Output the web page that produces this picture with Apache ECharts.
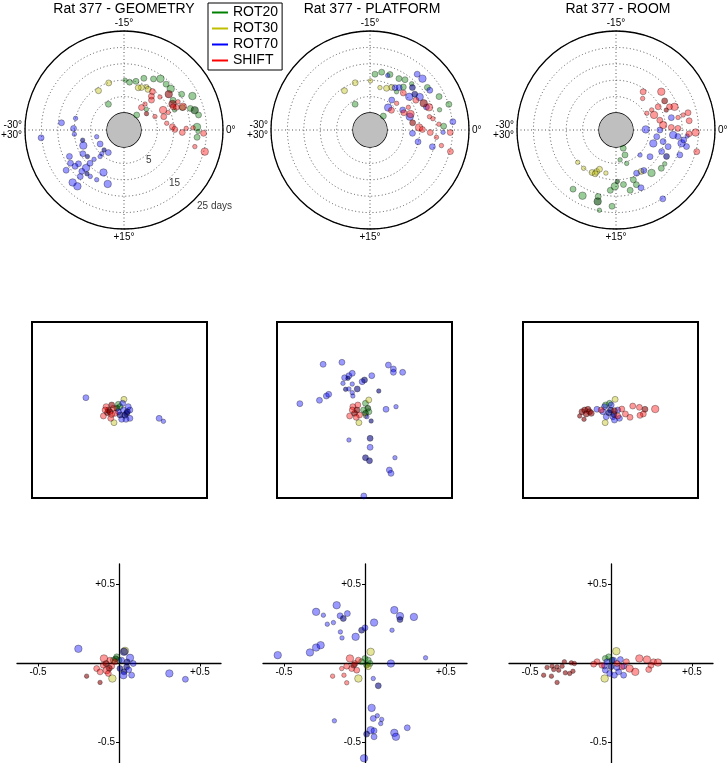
<!DOCTYPE html>
<html><head><meta charset="utf-8">
<script src="https://cdn.jsdelivr.net/npm/echarts@6/dist/echarts.min.js"></script>
<style>html,body{margin:0;padding:0;background:#fff}#c{width:728px;height:763px}</style>
</head><body><div id="c"></div>
<script>
// ---------------- DATA ----------------
const seriesNames = ['ROT20', 'ROT30', 'ROT70', 'SHIFT'];
const panelTitles = ['Rat 377 - GEOMETRY', 'Rat 377 - PLATFORM', 'Rat 377 - ROOM'];
const angleTicks = [-30, -15, 0, 15, 30];
const dayRings = [0, 5, 10, 15, 20, 25];
const dayRingLabels = ['5', '15', '25 days'];
const dayRingLabelDays = [6.7, 17.1, 25];
const dayRingLabelAngle = [8.4, 7.7, 7.5];
const crossTicks = [-0.5, 0.5];

// polar points: [days, rotation angle, weight, dark]
const geoPolarROT20 = [[9.5,-13.9,2],[10.1,-12.7,2],[11.7,-11.5,2],[12.8,-10.0,2],[14.0,-9.1,3],[13.8,-7.9,2],[13.8,-6.9,3],[12.3,-5.2,2],[15.5,-5.3,2],[18.1,-4.4,3],[13.9,-3.5,2],[16.1,-3.0,2],[17.2,-2.6,3,1],[18.0,-1.9,2],[17.1,-0.4,3],[17.2,0.95,2],[17.4,0.2,1],[4.0,-20.2,2],[0.8,-8.3,2],[4.1,-7.1,1],[11.4,-3.6,1],[10.0,-14.8,1]];
const geoPolarROT30 = [[9.9,-18.0,2],[9.1,-20.5,2],[8.8,-11.3,2],[9.7,-10.4,1],[9.2,-9.9,2],[8.4,-11.9,2]];
const geoPolarROT70 = [[14.0,-28.9,2],[10.0,-27.75,1],[20.2,29.1,2],[10.2,-29.7,2],[10.0,29.2,1],[7.8,27.7,1,1],[8.1,26.5,3],[9.3,25.0,2],[3.4,27.7,1],[3.25,24.95,2],[3.4,22.5,1,1],[3.2,20.8,2],[4.7,22.2,1],[13.3,25.7,2],[14.0,24.7,2],[16.3,24.2,2],[17.2,22.4,3],[17.1,21.6,3],[14.3,22.2,2],[11.2,22.5,3],[12.3,21.0,1],[12.1,19.8,1],[9.2,19.3,3],[12.0,17.8,3],[9.3,22.6,2],[7.6,22.6,1],[8.6,24.0,1,1],[12.1,23.9,2],[13.4,23.9,2],[12.8,22.6,2],[12.3,21.7,1,1],[5.7,22.0,1]];
const geoPolarSHIFT = [[3.5,-8.7,2],[5.0,-8.5,1],[7.2,-7.9,2],[8.1,-8.5,2],[9.4,-8.9,2],[9.7,-7.1,1],[8.2,-4.5,3],[7.6,-3.1,2],[5.1,-3.9,1],[8.0,-1.5,1],[9.6,-0.65,2],[10.3,-0.1,2],[12.6,0.4,2],[15.9,-0.3,1],[19.1,0.4,2],[20.3,2.5,3],[17.0,2.2,1],[14.1,-3.6,3],[12.2,-3.9,2],[11.6,-4.7,3,1],[12.3,-6.45,3,1],[11.4,-4.2,2],[13.8,-0.25,1],[3.3,-6.0,1,1],[9.3,-3.6,1],[13.4,-4.6,1]];

const platPolarROT20 = [[11.9,-14.15,2],[12.8,-13.1,2],[12.8,-11.7,2],[12.8,-10.1,2],[13.5,-9.2,2],[11.4,-8.7,2],[3.9,-20.0,2],[0.7,-7.7,2],[18.2,-4.3,2],[20.1,-3.0,2],[16.9,-2.7,1],[17.3,-0.5,2],[16.6,-6.1,2],[9.0,-9.2,1],[13.8,-8.0,1]];
const platPolarROT30 = [[9.9,-17.9,2],[9.1,-20.5,2],[9.8,-14.9,1],[8.1,-12.8,1],[9.4,-10.5,2],[8.5,-11.4,2]];
const platPolarROT70 = [[12.3,-12.0,1],[17.1,-8.3,2],[17.2,-7.4,3],[13.1,-7.5,2,1],[13.0,-5.6,3],[12.3,-6.45,2,1],[3.6,-8.5,3],[6.1,-9.0,2],[9.8,-9.9,2],[7.6,-3.1,3],[7.8,0.75,2],[9.9,2.3,2],[14.5,2.5,2],[20.2,-0.95,2],[17.1,0.3,1],[16.7,-5.6,2],[6.5,-5.25,2],[10.5,-6.7,3],[10.5,-9.25,2],[13.4,-3.7,2]];
const platPolarSHIFT = [[3.7,-7.1,2],[6.4,-4.5,2],[8.1,-3.6,3],[8.0,-1.6,2,1],[9.8,-0.5,3],[10.8,-0.1,2],[14.1,-3.5,3],[13.1,-4.4,3,1],[11.5,-5.5,2],[13.4,-2.1,1],[14.3,-1.7,1],[13.2,0.4,2],[15.2,1.05,1],[17.1,2.05,1],[20.2,2.5,2],[19.3,0.3,2],[10.0,-8.0,2],[6.3,-7.5,1],[8.4,-5.1,1],[15.9,-0.8,1]];

const roomPolarROT20 = [[0.8,11.4,2],[2.9,11.7,2],[4.0,13.7,1],[5.5,12.05,1],[13.3,15.9,2],[12.0,15.2,3],[11.6,13.7,2],[13.7,12.8,2],[15.8,17.5,2],[17.3,17.4,3,1],[17.3,19.5,3],[17.1,21.0,2],[18.1,15.5,2],[19.8,16.95,1],[11.8,8.4,3],[12.9,6.7,2],[12.9,5.8,1],[12.6,11.6,2],[10.5,14.75,1,1],[10.9,11.8,2]];
const roomPolarROT30 = [[10.1,23.3,1],[10.1,21.7,1],[9.7,19.9,2],[8.8,19.15,2],[7.8,18.8,2],[9.6,19.25,2],[8.3,17.2,1],[9.6,9.8,2]];
const roomPolarROT70 = [[3.9,-0.2,3],[7.4,1.55,2],[9.6,2.3,2],[12.1,-2.1,2],[13.8,1.0,2],[15.2,1.9,3],[16.9,2.2,2],[15.7,3.55,2],[11.5,2.95,2],[10.2,4.2,2],[8.0,6.35,2],[5.4,7.7,1],[9.8,9.25,2],[14.0,11.1,2],[20.2,9.3,2],[6.9,3.3,3],[12.3,0.83,3],[15.7,1.4,2],[8.2,0,2],[12.2,4.6,2,1],[9.4,10.75,2],[16.6,0.8,1]];
const roomPolarSHIFT = [[9.1,-9.1,2],[7.4,-8.3,1],[12.9,-6.7,3],[12.1,-5.15,2,1],[14.0,-3.6,3],[12.6,-3.9,2],[17.4,-2.25,2],[17.3,-1.2,2],[19.1,0.3,3],[17.1,0.5,2],[20.3,2.5,2],[7.3,-3.6,3],[8.5,-2.1,2],[9.3,-1.0,3],[11.7,-0.45,2],[13.7,-0.25,2],[14.1,-1.9,1],[7.3,-4.9,1],[5.5,-4.75,1],[11.3,-3.6,1,1],[9.5,-4.8,2],[15.8,-2.1,1]];

// square panels: [x, y, weight, dark]
const geoSqROT20 = [[-0.013,0.064,2],[0.006,0.038,2],[-0.03,0.02,2,1]];
const geoSqROT30 = [[0.051,0.121,2],[-0.063,-0.144,2]];
const geoSqROT70 = [[-0.384,0.14,2],[0.453,-0.095,2],[0.502,-0.129,1],[0.044,0,2],[0.081,-0.038,2,1],[0.119,0,2],[0.119,-0.095,2],[0.025,-0.106,2],[0.1,0.038,2],[0.036,0.076,2],[0.006,-0.057,2,1],[0.074,-0.106,2],[-0.013,-0.019,2],[0.06,-0.06,2,1],[0.09,-0.02,2,1]];
const geoSqSHIFT = [[-0.127,0,2,1],[-0.153,0.038,2],[-0.184,-0.068,2],[-0.1,-0.095,2],[-0.138,-0.03,2,1],[-0.07,0.019,2],[-0.051,-0.038,2],[-0.089,0.057,2,1],[-0.165,0,2],[-0.11,-0.02,2,1],[-0.09,-0.05,2]];

const platSqROT20 = [[0.011,0.076,2],[0.038,0.019,2,1],[-0.011,0,2],[0.05,-0.02,2],[0.011,-0.038,2,1]];
const platSqROT30 = [[0.049,0.114,2],[-0.064,-0.144,2],[0.011,-0.068,1]];
const platSqROT70 = [[-0.473,0.519,2],[-0.258,0.542,2],[-0.739,0.072,2],[-0.515,0.11,2],[-0.436,0.159,2],[-0.409,0.178,2],[-0.227,0.367,2],[-0.178,0.39,2],[-0.14,0.417,2],[-0.246,0.303,1],[-0.189,0.36,1,1],[-0.216,0.235,1,1],[-0.178,0.239,1],[-0.14,0.295,1],[-0.083,0.239,2,1],[-0.14,0.197,1],[-0.133,0.159,1],[-0.027,0.322,2],[0,0.341,2,1],[0.083,0.39,2],[0.273,0.511,2],[0.33,0.466,2],[0.33,0.428,2],[0.436,0.428,2],[0.163,0.216,1,1],[0.36,0.038,1],[0.246,0.008,2],[0.076,-0.125,1,1],[-0.178,-0.341,1],[0.064,-0.322,2,1],[0.064,-0.424,2],[0.011,-0.542,2,1],[0.057,-0.576,2,1],[0.348,-0.542,1],[0.284,-0.682,2],[0.303,-0.72,2],[-0.008,-0.977,2],[0.027,-0.076,1]];
const platSqSHIFT = [[-0.133,0.038,2],[-0.087,0,2,1],[-0.114,-0.038,2,1],[-0.17,-0.068,2],[-0.057,-0.057,2],[-0.14,0,2],[-0.076,0.057,2],[-0.095,-0.083,2]];

const roomSqROT20 = [[-0.011,0.076,2],[-0.057,0.057,2]];
const roomSqROT30 = [[0.053,0.121,2],[-0.061,-0.144,2]];
const roomSqROT70 = [[-0.155,0.008,2],[-0.087,-0.019,2],[0,0,2,1],[0.027,-0.076,2],[0.045,-0.114,2],[-0.049,-0.076,2],[0.083,0,2],[0.008,0.057,2],[-0.068,0.038,2],[0.102,-0.095,2],[0.04,-0.05,2,1],[-0.02,-0.03,2,1]];
const roomSqSHIFT = [[0.254,0.045,2],[0.33,0.03,2],[0.394,0.008,2,1],[0.511,0.011,3],[0.375,-0.045,2],[0.337,-0.061,2],[0.223,-0.083,2],[0.17,-0.045,2],[0.129,0.011,2],[0.083,-0.068,2],[-0.326,-0.019,2,1],[-0.295,0,2,1],[-0.258,0.008,2,1],[-0.239,-0.019,2,1],[-0.352,-0.068,1,1],[-0.303,-0.106,1,1],[-0.277,-0.045,2,1],[-0.22,-0.038,2,1],[0.045,-0.008,2,1],[-0.106,0,2]];

// cross panels: [x, y, weight, dark]
const geoCrROT20 = [[-0.014,0.042,2],[-0.035,0.021,2],[0,0.02,2],[-0.02,0.03,2,1]];
const geoCrROT30 = [[-0.041,-0.095,3],[0.037,0.08,3]];
const geoCrROT70 = [[-0.251,0.093,3],[0.311,-0.063,3],[0.41,-0.10,2],[0.068,0.036,3],[0.088,0,2],[0.031,-0.053,2,1],[0.078,-0.074,2],[0.047,-0.021,2,1],[0.016,0.021,2],[0.027,-0.074,3],[0.006,-0.032,2,1],[0.031,0.074,3,1],[0.05,0.01,2,1],[0.06,-0.04,2]];
const geoCrSHIFT = [[-0.093,0.032,3],[-0.138,-0.032,2],[-0.117,-0.053,2],[-0.076,-0.042,3],[-0.045,-0.017,2],[-0.097,-0.011,2],[-0.056,0.021,2],[-0.2,-0.08,1,1],[-0.117,-0.12,1,1],[-0.066,-0.063,2],[-0.025,0.011,2],[-0.08,0,2,1],[-0.06,-0.03,2,1]];

const platCrROT20 = [[0,0.032,2],[0.02,0.021,2],[-0.021,0.011,2],[0.031,0,2],[0.01,-0.01,2,1]];
const platCrROT30 = [[0.035,0.074,3],[-0.041,-0.095,3],[0.02,-0.02,2]];
const platCrROT70 = [[-0.539,0.053,3],[-0.34,0.07,3],[-0.302,0.101,3],[-0.274,0.116,3],[-0.302,0.327,3],[-0.257,0.306,1],[-0.175,0.369,3],[-0.195,0.259,1],[-0.233,0.249,1],[-0.154,0.302,2],[-0.134,0.285,2,1],[-0.109,0.316,2],[-0.152,0.2,1],[-0.142,0.162,1],[-0.058,0.169,3],[-0.021,0.211,2,1],[0,0.226,2],[0.056,0.259,3],[0.181,0.338,3],[0.216,0.3,3],[0.216,0.278,2,1],[0.302,0.295,3],[0.167,0.211,1],[0.374,0.036,1],[0.16,0,3],[0.051,-0.095,1],[0.082,-0.141,2,1],[0.041,-0.281,3],[0.051,-0.348,2],[0.076,-0.331,1],[0.103,-0.354,1],[0.097,-0.38,1],[0.035,-0.422,3],[0.056,-0.426,2],[0.01,-0.447,2,1],[0.056,-0.464,2],[-0.189,-0.363,1],[0.181,-0.439,3],[0.191,-0.464,3],[0.261,-0.407,2],[-0.006,-0.6,3]];
const platCrSHIFT = [[-0.093,0.032,3],[-0.062,0,2],[-0.113,-0.017,2],[-0.082,-0.032,2],[-0.051,-0.042,2],[-0.144,-0.032,1],[-0.2,-0.08,1],[-0.113,-0.122,1],[-0.13,-0.074,1],[-0.041,0.021,2],[-0.07,-0.01,2,1]];

const roomCrROT20 = [[-0.035,0.032,2],[-0.014,0.042,2],[0.006,0.021,2,1]];
const roomCrROT30 = [[0.033,0.078,3],[-0.039,-0.095,3]];
const roomCrROT70 = [[-0.025,0.011,2],[0.016,0.021,2],[0.058,0.025,2],[0.078,-0.017,2],[0.047,-0.053,2],[0.021,-0.074,2],[-0.008,-0.063,2],[-0.035,-0.042,2],[0.078,-0.074,2],[0,-0.02,2,1],[0.037,-0.025,2],[-0.04,-0.015,2]];
const roomCrSHIFT = [[0.175,0.032,3],[0.222,0.025,3],[0.263,0.011,2],[0.29,0.006,3],[0.247,-0.011,2],[0.233,-0.038,2],[0.15,-0.053,3],[0.115,-0.032,3],[0.095,0.011,2],[0.037,0,2],[0.068,-0.021,2],[-0.416,-0.074,1,1],[-0.368,-0.08,1,1],[-0.333,-0.12,1,1],[-0.364,-0.017,1,1],[-0.333,-0.021,1,1],[-0.302,-0.017,1,1],[-0.288,0.011,1,1],[-0.255,-0.063,1,1],[-0.235,-0.049,1,1],[-0.245,0.004,1,1],[-0.226,0,1,1],[-0.282,-0.059,1,1],[-0.323,-0.042,1,1],[-0.354,-0.038,1,1],[-0.395,-0.025,1,1],[-0.086,0.011,2],[-0.056,-0.011,2],[-0.107,-0.004,2]];

// ---------------- LAYOUT / STYLE ----------------
const FONT = '"Liberation Sans", Arial, sans-serif';
const COLORS = {ROT20:'0,128,0', ROT30:'191,191,0', ROT70:'0,0,255', SHIFT:'255,0,0'};
const DARK = {ROT20:'0,70,0', ROT30:'120,120,0', ROT70:'0,0,130', SHIFT:'140,0,0'};
const SIZE = [0, 4.5, 6, 7.5];
const polarCenters = [[124,130],[370,130],[616,130]];
const squareLefts = [32, 277, 523];
const crossLefts = [17, 263, 509];
const crossW = 204, crossH = 199;
const titleCenters = [124, 372, 618];

const polarData = [
  [geoPolarROT20, geoPolarROT30, geoPolarROT70, geoPolarSHIFT],
  [platPolarROT20, platPolarROT30, platPolarROT70, platPolarSHIFT],
  [roomPolarROT20, roomPolarROT30, roomPolarROT70, roomPolarSHIFT]
];
const squareData = [
  [geoSqROT20, geoSqROT30, geoSqROT70, geoSqSHIFT],
  [platSqROT20, platSqROT30, platSqROT70, platSqSHIFT],
  [roomSqROT20, roomSqROT30, roomSqROT70, roomSqSHIFT]
];
const crossData = [
  [geoCrROT20, geoCrROT30, geoCrROT70, geoCrSHIFT],
  [platCrROT20, platCrROT30, platCrROT70, platCrSHIFT],
  [roomCrROT20, roomCrROT30, roomCrROT70, roomCrSHIFT]
];

function itemStyle(name) {
  return {
    color: p => (p.data[3] ? 'rgba(' + DARK[name] + ',0.72)' : 'rgba(' + COLORS[name] + ',0.5)'),
    borderColor: 'rgba(0,0,0,0.55)',
    borderWidth: 0.7
  };
}
const symSize = v => SIZE[v[2]];
const fmtAngle = v => {
  if (v === -30 || v === 30) return '-30°\n+30°';
  if (v === 0) return '0°';
  return (v > 0 ? '+' : '') + v + '°';
};
const fmtCross = v => (v > 0 ? '+' : '') + v.toFixed(1);
const gridLine = {color:'#555', type:[1,2.5], width:1};
const XMIN = -0.63, XMAX = 0.63, YMIN = -0.63, YMAX = 0.63;

const option = {
  animation: false,
  backgroundColor: '#fff',
  title: panelTitles.map((t, i) => ({
    text: t, left: titleCenters[i], top: 2, textAlign: 'center', padding: 0,
    textStyle: {fontSize: 14, fontWeight: 'normal', color: '#000', fontFamily: FONT}
  })),
  legend: {
    left: 208, top: 3, orient: 'vertical', selectedMode: false,
    data: seriesNames.map(n => ({name: n, icon: 'rect', itemStyle: {color: 'rgb(' + COLORS[n] + ')', opacity: 1, borderWidth: 0}})),
    itemWidth: 16, itemHeight: 2, itemGap: 1,
    textStyle: {fontSize: 14, color: '#000', fontFamily: FONT, lineHeight: 15},
    borderColor: '#000', borderWidth: 1, borderRadius: 0, padding: [2, 4, 2, 4], backgroundColor: '#fff'
  },
  polar: polarCenters.map(c => ({center: c, radius: [17, 99]})),
  angleAxis: polarCenters.map((c, i) => ({
    polarIndex: i, type: 'value', min: angleTicks[0], max: angleTicks[angleTicks.length - 1], interval: 15,
    startAngle: 180, clockwise: true,
    axisLine: {lineStyle: {color: '#000', width: 1.3}},
    axisTick: {show: false},
    axisLabel: {margin: 3, fontSize: 10, color: '#000', fontFamily: FONT, formatter: fmtAngle},
    splitLine: {show: true, lineStyle: gridLine}
  })),
  radiusAxis: polarCenters.map((c, i) => ({
    polarIndex: i, type: 'value', min: dayRings[0], max: dayRings[dayRings.length - 1], interval: 5,
    axisLine: {show: false}, axisTick: {show: false}, axisLabel: {show: false},
    splitLine: {show: true, lineStyle: gridLine}
  })),
  grid: [
    ...squareLefts.map(l => ({left: l, top: 322, width: 175, height: 176, show: true, borderColor: '#000', borderWidth: 2, backgroundColor: 'transparent', containLabel: false, outerBoundsMode: 'none'})),
    ...crossLefts.map(l => ({left: l, top: 564, width: crossW, height: crossH, containLabel: false, outerBoundsMode: 'none'}))
  ],
  xAxis: [
    ...squareLefts.map((l, i) => ({gridIndex: i, type: 'value', min: -1, max: 1, show: false})),
    ...crossLefts.map((l, i) => ({
      gridIndex: 3 + i, type: 'value', min: XMIN, max: XMAX, position: 'bottom',
      offset: -crossH * (0 - YMIN) / (YMAX - YMIN),
      axisLine: {onZero: false, lineStyle: {color: '#000', width: 1.3}},
      axisTick: {show: true, length: 3, customValues: crossTicks, lineStyle: {color: '#000'}},
      axisLabel: {customValues: crossTicks, formatter: fmtCross, fontSize: 10, color: '#000', fontFamily: FONT, margin: 4},
      splitLine: {show: false}
    }))
  ],
  yAxis: [
    ...squareLefts.map((l, i) => ({gridIndex: i, type: 'value', min: -1, max: 1, show: false})),
    ...crossLefts.map((l, i) => ({
      gridIndex: 3 + i, type: 'value', min: YMIN, max: YMAX, position: 'left',
      offset: -crossW * (0 - XMIN) / (XMAX - XMIN),
      axisLine: {onZero: false, lineStyle: {color: '#000', width: 1.3}},
      axisTick: {show: true, length: 3, customValues: crossTicks, lineStyle: {color: '#000'}},
      axisLabel: {customValues: crossTicks, formatter: fmtCross, fontSize: 10, color: '#000', fontFamily: FONT, margin: 4},
      splitLine: {show: false}
    }))
  ],
  series: []
};

// gray disc in polar centres
polarCenters.forEach(c => {
  option.series.push({
    type: 'pie', center: c, radius: [0, 17], silent: true, z: 1,
    label: {show: false}, labelLine: {show: false}, emphasis: {disabled: true},
    itemStyle: {color: '#bfbfbf', borderWidth: 0},
    data: [{value: 1, name: 'centre'}]
  });
});

for (let p = 0; p < 3; p++) {
  seriesNames.forEach((n, k) => {
    option.series.push({name: n, type: 'scatter', coordinateSystem: 'polar', polarIndex: p,
      data: polarData[p][k], symbolSize: symSize, itemStyle: itemStyle(n), z: 3});
    option.series.push({name: n, type: 'scatter', xAxisIndex: p, yAxisIndex: p,
      data: squareData[p][k], symbolSize: symSize, itemStyle: itemStyle(n), z: 3});
    option.series.push({name: n, type: 'scatter', xAxisIndex: 3 + p, yAxisIndex: 3 + p,
      data: crossData[p][k], symbolSize: symSize, itemStyle: itemStyle(n), z: 3});
  });
}

// day ring labels on the first polar panel
option.series.push({
  name: 'days', type: 'scatter', coordinateSystem: 'polar', polarIndex: 0, symbolSize: 0, silent: true, z: 4,
  data: dayRingLabels.map((t, i) => ({
    name: t, value: [dayRingLabelDays[i], dayRingLabelAngle[i]],
    label: i === 2 ? {position: 'right', distance: 3, offset: [0, 6]} : {position: 'inside'}
  })),
  label: {show: true, formatter: q => q.name, fontSize: 10, color: '#000', fontFamily: FONT}
});

const chart = echarts.init(document.getElementById('c'), null, {renderer: 'canvas'});
chart.setOption(option);
</script>
</body></html>
